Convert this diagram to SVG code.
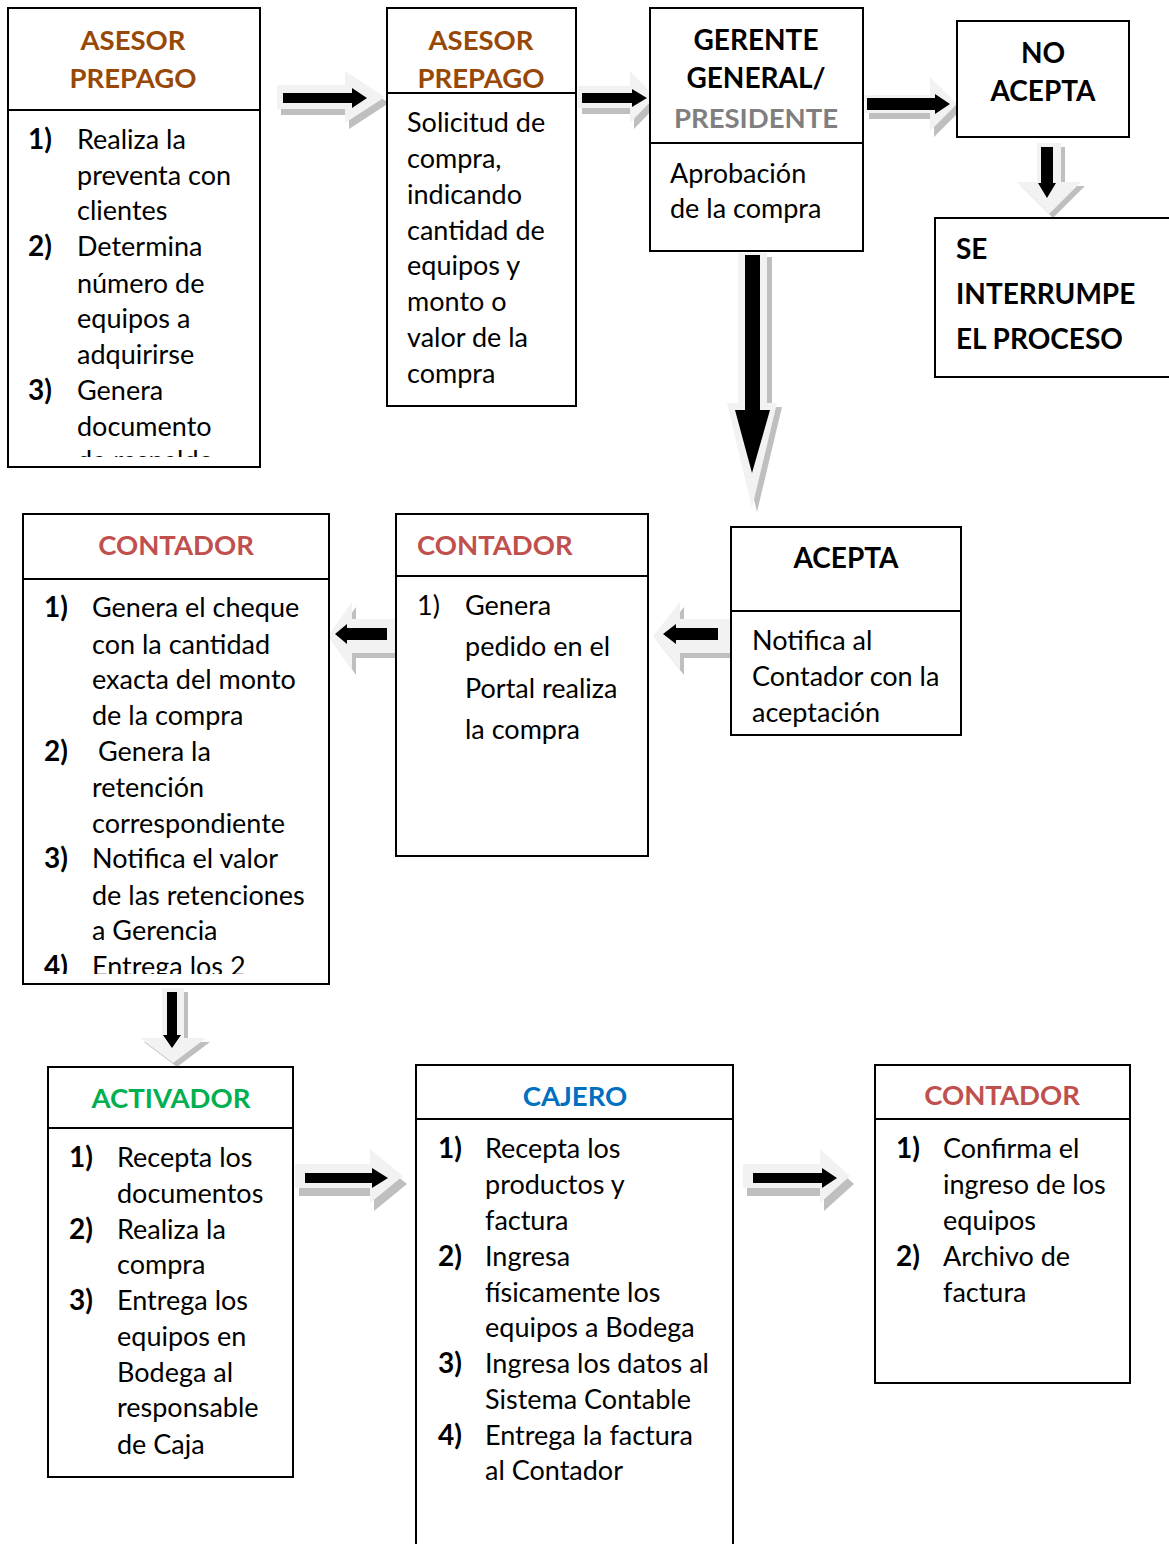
<svg xmlns="http://www.w3.org/2000/svg" width="1169" height="1544" viewBox="0 0 1169 1544">
  <defs>
    <style>
      .box { fill: #ffffff; stroke: #000000; stroke-width: 2; }
      .div { stroke: #000000; stroke-width: 2; fill: none; }
      .t { font-family: Lato, "Open Sans", "Liberation Sans", sans-serif; font-size: 27px; fill: #000000; }
      .b { font-family: Lato, "Open Sans", "Liberation Sans", sans-serif; font-size: 28px; font-weight: bold; fill: #000000; }
      .h { font-family: Lato, "Open Sans", "Liberation Sans", sans-serif; font-size: 27.5px; font-weight: bold; }
      .mid { text-anchor: middle; }
      .brown { fill: #984806; }
      .gray { fill: #7f7f7f; }
      .red { fill: #c0504d; }
      .green { fill: #00b050; }
      .blue { fill: #0070c0; }
      .halo { fill: #f2f2f2; }
      .shadow { fill: #bfbfbf; }
      .core { fill: #000000; }
    </style>
    <clipPath id="clip-asesor1"><rect x="8" y="110" width="252" height="347"/></clipPath>
    <clipPath id="clip-contador1"><rect x="23" y="579" width="306" height="395"/></clipPath>
  </defs>

  <!-- block arrows: light body with a grey drop shadow and a black inner arrow -->
  <g id="connectors">
    <g id="arrow-asesor-asesor">
      <path class="shadow" transform="translate(4,6)" d="M277,85 H345 V71 L385,97 L345,123 V109 H277 Z"/>
      <path class="halo" d="M277,85 H345 V71 L385,97 L345,123 V109 H277 Z"/>
      <path class="core" d="M283,93 H352 V88 L367,98 L352,108 V103 H283 Z"/>
    </g>
    <g id="arrow-asesor-gerente">
      <path class="shadow" transform="translate(4,6)" d="M578,86 H630 V71 L655,97 L630,123 V108 H578 Z"/>
      <path class="halo" d="M578,86 H630 V71 L655,97 L630,123 V108 H578 Z"/>
      <path class="core" d="M582,93 H632 V89 L647,98 L632,107 V103 H582 Z"/>
    </g>
    <g id="arrow-gerente-noacepta">
      <path class="shadow" transform="translate(4,6)" d="M865,95 H930 V77 L957,104 L930,131 V113 H865 Z"/>
      <path class="halo" d="M865,95 H930 V77 L957,104 L930,131 V113 H865 Z"/>
      <path class="core" d="M867,98 H935 V94 L950,104 L935,114 V110 H867 Z"/>
    </g>
    <g id="arrow-noacepta-interrumpe">
      <path class="shadow" transform="translate(4,4)" d="M1037,143 V182 H1017 L1049,214 L1081,182 H1061 V143 Z"/>
      <path class="halo" d="M1037,143 V182 H1017 L1049,214 L1081,182 H1061 V143 Z"/>
      <path class="core" d="M1041,147 V183 H1038 L1047,198 L1056,183 H1053 V147 Z"/>
    </g>
    <g id="arrow-gerente-acepta">
      <path class="shadow" transform="translate(5,4)" d="M738,253 V403 H727 L752,508 L777,403 H767 V253 Z"/>
      <path class="halo" d="M738,253 V403 H727 L752,508 L777,403 H767 V253 Z"/>
      <path class="core" d="M745,255 V410 H735 L752,473 L770,410 H760 V255 Z"/>
    </g>
    <g id="arrow-acepta-contador">
      <path class="shadow" transform="translate(4,5)" d="M730,619 H680 V602 L653,636 L680,670 V653 H730 Z"/>
      <path class="halo" d="M730,619 H680 V602 L653,636 L680,670 V653 H730 Z"/>
      <path class="core" d="M718,628 H676 V624 L663,634 L676,644 V640 H718 Z"/>
    </g>
    <g id="arrow-contador-contador">
      <path class="shadow" transform="translate(4,5)" d="M395,619 H352 V602 L328,636 L352,670 V653 H395 Z"/>
      <path class="halo" d="M395,619 H352 V602 L328,636 L352,670 V653 H395 Z"/>
      <path class="core" d="M387,628 H347 V624 L335,634 L347,644 V640 H387 Z"/>
    </g>
    <g id="arrow-contador-activador">
      <path class="shadow" transform="translate(4,4)" d="M162,988 V1038 H140 L173,1063 L206,1038 H184 V988 Z"/>
      <path class="halo" d="M162,988 V1038 H140 L173,1063 L206,1038 H184 V988 Z"/>
      <path class="core" d="M167,992 V1035 H163 L172,1048 L181,1035 H177 V992 Z"/>
    </g>
    <g id="arrow-activador-cajero">
      <path class="shadow" transform="translate(4,8)" d="M295,1164 H370 V1149 L403,1176 L370,1203 V1188 H295 Z"/>
      <path class="halo" d="M295,1164 H370 V1149 L403,1176 L370,1203 V1188 H295 Z"/>
      <path class="core" d="M305,1173 H372 V1168 L388,1178 L372,1188 V1183 H305 Z"/>
    </g>
    <g id="arrow-cajero-contador">
      <path class="shadow" transform="translate(4,8)" d="M743,1164 H820 V1149 L850,1176 L820,1203 V1188 H743 Z"/>
      <path class="halo" d="M743,1164 H820 V1149 L850,1176 L820,1203 V1188 H743 Z"/>
      <path class="core" d="M753,1173 H822 V1168 L837,1178 L822,1188 V1183 H753 Z"/>
    </g>
  </g>

  <!-- Asesor prepago: preventa -->
  <g id="asesor-prepago-1">
    <rect class="box" x="8" y="8" width="252" height="459"/>
    <line class="div" x1="8" y1="110" x2="260" y2="110"/>
    <text class="h brown mid" x="133" y="50">ASESOR</text>
    <text class="h brown mid" x="133" y="88">PREPAGO</text>
    <g clip-path="url(#clip-asesor1)">
      <text class="b" x="28" y="149">1)</text>
      <text class="t"><tspan x="77" y="149">Realiza la</tspan><tspan x="77" y="185">preventa con</tspan><tspan x="77" y="220">clientes</tspan></text>
      <text class="b" x="28" y="256">2)</text>
      <text class="t"><tspan x="77" y="256">Determina</tspan><tspan x="77" y="293">número de</tspan><tspan x="77" y="328">equipos a</tspan><tspan x="77" y="364">adquirirse</tspan></text>
      <text class="b" x="28" y="400">3)</text>
      <text class="t"><tspan x="77" y="400">Genera</tspan><tspan x="77" y="436">documento</tspan><tspan x="77" y="470">de respaldo</tspan></text>
    </g>
  </g>

  <!-- Asesor prepago: solicitud -->
  <g id="asesor-prepago-2">
    <rect class="box" x="387" y="8" width="189" height="398"/>
    <line class="div" x1="387" y1="93" x2="576" y2="93"/>
    <text class="h brown mid" x="481" y="50">ASESOR</text>
    <text class="h brown mid" x="481" y="88">PREPAGO</text>
    <text class="t"><tspan x="407" y="132">Solicitud de</tspan><tspan x="407" y="168">compra,</tspan><tspan x="407" y="204">indicando</tspan><tspan x="407" y="240">cantidad de</tspan><tspan x="407" y="275">equipos y</tspan><tspan x="407" y="311">monto o</tspan><tspan x="407" y="347">valor de la</tspan><tspan x="407" y="383">compra</tspan></text>
  </g>

  <!-- Gerente general / presidente -->
  <g id="gerente-general">
    <rect class="box" x="650" y="8" width="213" height="243"/>
    <line class="div" x1="650" y1="143" x2="863" y2="143"/>
    <text class="b mid" x="756" y="50">GERENTE</text>
    <text class="b mid" x="756" y="88">GENERAL/</text>
    <text class="h gray mid" x="756" y="128">PRESIDENTE</text>
    <text class="t"><tspan x="670" y="183">Aprobación</tspan><tspan x="670" y="218">de la compra</tspan></text>
  </g>

  <!-- No acepta -->
  <g id="no-acepta">
    <rect class="box" x="957" y="21" width="172" height="116"/>
    <text class="b mid" x="1043" y="63">NO</text>
    <text class="b mid" x="1043" y="101">ACEPTA</text>
  </g>

  <!-- Se interrumpe el proceso -->
  <g id="se-interrumpe">
    <rect class="box" x="935" y="218" width="240" height="159"/>
    <text class="b"><tspan x="956" y="259">SE</tspan><tspan x="956" y="304">INTERRUMPE</tspan><tspan x="956" y="349">EL PROCESO</tspan></text>
  </g>

  <!-- Acepta -->
  <g id="acepta">
    <rect class="box" x="731" y="527" width="230" height="208"/>
    <line class="div" x1="731" y1="611" x2="961" y2="611"/>
    <text class="b mid" x="846" y="568">ACEPTA</text>
    <text class="t"><tspan x="752" y="650">Notifica al</tspan><tspan x="752" y="686">Contador con la</tspan><tspan x="752" y="722">aceptación</tspan></text>
  </g>

  <!-- Contador: pedido en el portal -->
  <g id="contador-pedido">
    <rect class="box" x="396" y="514" width="252" height="342"/>
    <line class="div" x1="396" y1="576" x2="648" y2="576"/>
    <text class="h red" x="417" y="555">CONTADOR</text>
    <text class="t" x="417" y="615">1)</text>
    <text class="t"><tspan x="465" y="615">Genera</tspan><tspan x="465" y="656">pedido en el</tspan><tspan x="465" y="698">Portal realiza</tspan><tspan x="465" y="739">la compra</tspan></text>
  </g>

  <!-- Contador: cheque y retenciones -->
  <g id="contador-cheque">
    <rect class="box" x="23" y="514" width="306" height="470"/>
    <line class="div" x1="23" y1="579" x2="329" y2="579"/>
    <text class="h red mid" x="176" y="555">CONTADOR</text>
    <g clip-path="url(#clip-contador1)">
      <text class="b" x="44" y="617">1)</text>
      <text class="t"><tspan x="92" y="617">Genera el cheque</tspan><tspan x="92" y="654">con la cantidad</tspan><tspan x="92" y="689">exacta del monto</tspan><tspan x="92" y="725">de la compra</tspan></text>
      <text class="b" x="44" y="761">2)</text>
      <text class="t"><tspan x="98" y="761">Genera la</tspan><tspan x="92" y="797">retención</tspan><tspan x="92" y="833">correspondiente</tspan></text>
      <text class="b" x="44" y="868">3)</text>
      <text class="t"><tspan x="92" y="868">Notifica el valor</tspan><tspan x="92" y="905">de las retenciones</tspan><tspan x="92" y="940">a Gerencia</tspan></text>
      <text class="b" x="44" y="976">4)</text>
      <text class="t" x="92" y="976">Entrega los 2</text>
    </g>
  </g>

  <!-- Activador -->
  <g id="activador">
    <rect class="box" x="48" y="1067" width="245" height="410"/>
    <line class="div" x1="48" y1="1128" x2="293" y2="1128"/>
    <text class="h green mid" x="171" y="1108">ACTIVADOR</text>
    <text class="b" x="69" y="1167">1)</text>
    <text class="t"><tspan x="117" y="1167">Recepta los</tspan><tspan x="117" y="1203">documentos</tspan></text>
    <text class="b" x="69" y="1239">2)</text>
    <text class="t"><tspan x="117" y="1239">Realiza la</tspan><tspan x="117" y="1274">compra</tspan></text>
    <text class="b" x="69" y="1310">3)</text>
    <text class="t"><tspan x="117" y="1310">Entrega los</tspan><tspan x="117" y="1346">equipos en</tspan><tspan x="117" y="1382">Bodega al</tspan><tspan x="117" y="1417">responsable</tspan><tspan x="117" y="1454">de Caja</tspan></text>
  </g>

  <!-- Cajero -->
  <g id="cajero">
    <rect class="box" x="416" y="1065" width="317" height="490"/>
    <line class="div" x1="416" y1="1119" x2="733" y2="1119"/>
    <text class="h blue mid" x="575" y="1106">CAJERO</text>
    <text class="b" x="438" y="1158">1)</text>
    <text class="t"><tspan x="485" y="1158">Recepta los</tspan><tspan x="485" y="1194">productos y</tspan><tspan x="485" y="1230">factura</tspan></text>
    <text class="b" x="438" y="1266">2)</text>
    <text class="t"><tspan x="485" y="1266">Ingresa</tspan><tspan x="485" y="1302">físicamente los</tspan><tspan x="485" y="1337">equipos a Bodega</tspan></text>
    <text class="b" x="438" y="1373">3)</text>
    <text class="t"><tspan x="485" y="1373">Ingresa los datos al</tspan><tspan x="485" y="1409">Sistema Contable</tspan></text>
    <text class="b" x="438" y="1445">4)</text>
    <text class="t"><tspan x="485" y="1445">Entrega la factura</tspan><tspan x="485" y="1480">al Contador</tspan></text>
  </g>

  <!-- Contador: confirmación y archivo -->
  <g id="contador-archivo">
    <rect class="box" x="875" y="1065" width="255" height="318"/>
    <line class="div" x1="875" y1="1119" x2="1130" y2="1119"/>
    <text class="h red mid" x="1002" y="1105">CONTADOR</text>
    <text class="b" x="896" y="1158">1)</text>
    <text class="t"><tspan x="943" y="1158">Confirma el</tspan><tspan x="943" y="1194">ingreso de los</tspan><tspan x="943" y="1230">equipos</tspan></text>
    <text class="b" x="896" y="1266">2)</text>
    <text class="t"><tspan x="943" y="1266">Archivo de</tspan><tspan x="943" y="1302">factura</tspan></text>
  </g>
</svg>
